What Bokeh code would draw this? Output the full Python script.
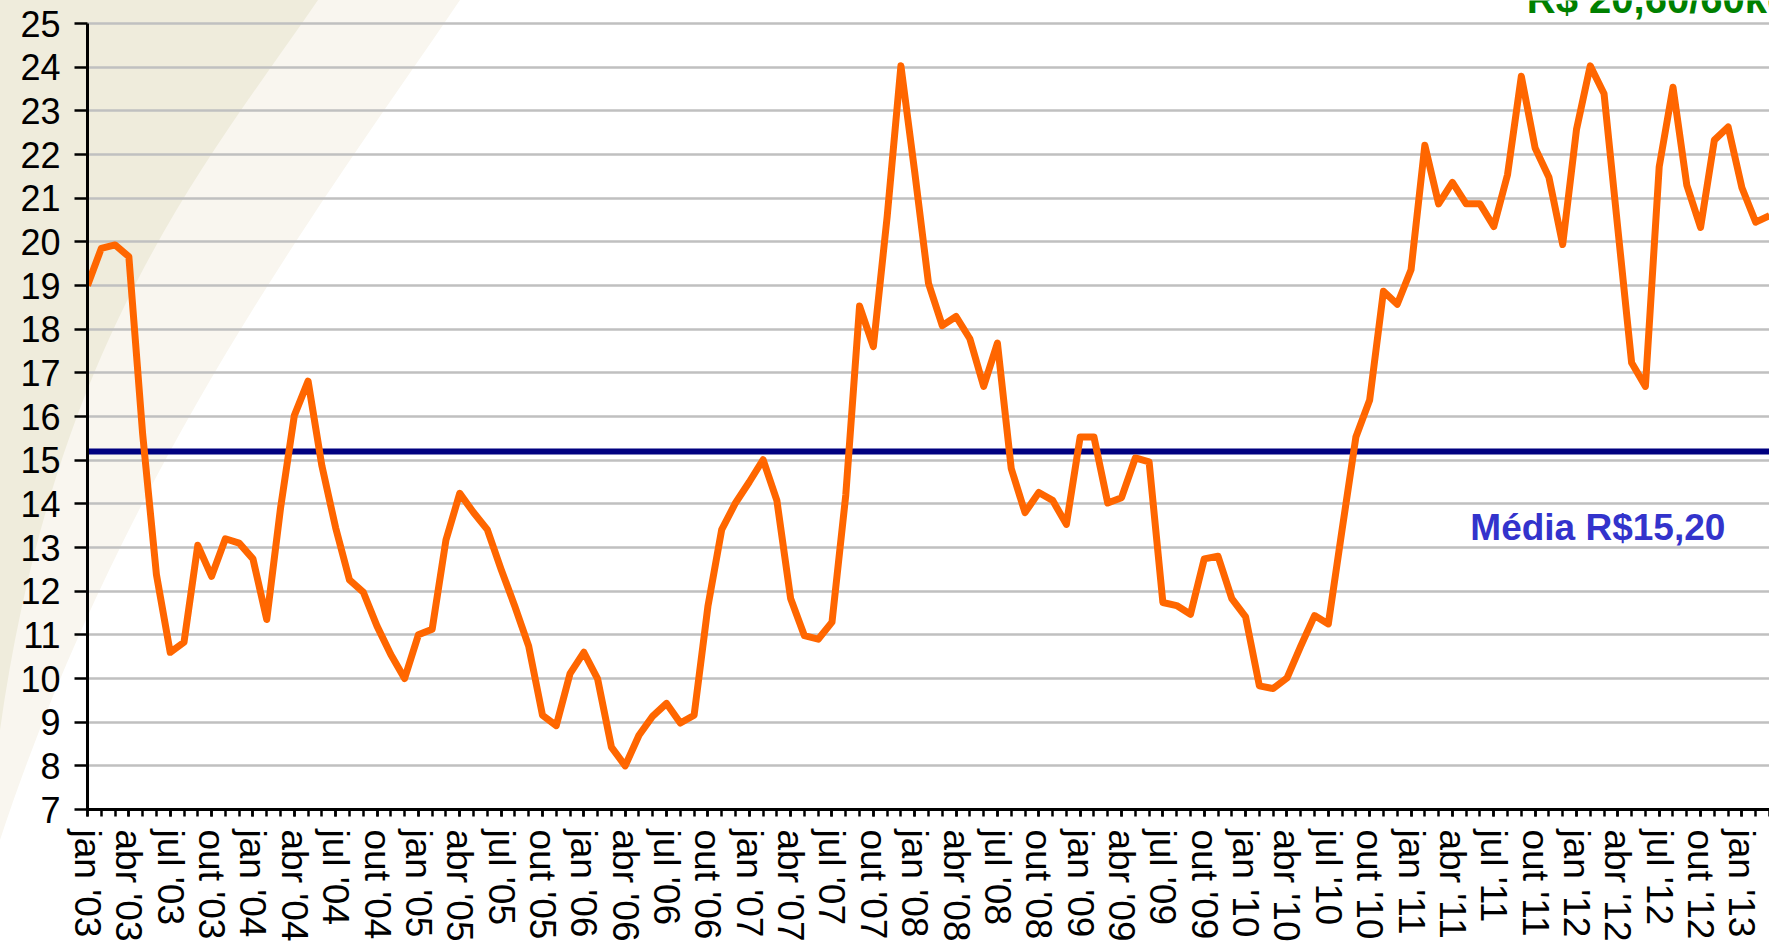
from urllib.parse import quote
from bokeh.plotting import figure
from bokeh.models import Range1d, FixedTicker, Label, Span, InlineStyleSheet
from bokeh.embed import file_html
from bokeh.resources import INLINE

# ---------------- data ----------------
month_names = ["jan", "fev", "mar", "abr", "mai", "jun", "jul", "ago", "set", "out", "nov", "dez"]
start_year = 2003
prices = [
    19.0, 19.85, 19.93, 19.66, 15.6, 12.38, 10.6, 10.83, 13.05, 12.34, 13.2, 13.1,      # 2003
    12.74, 11.35, 13.9, 16.02, 16.81, 14.87, 13.45, 12.26, 11.98, 11.2, 10.55, 10.0,    # 2004
    11.0, 11.13, 13.17, 14.24, 13.8, 13.41, 12.5, 11.65, 10.74, 9.16, 8.92, 10.11,      # 2005
    10.6, 9.99, 8.43, 8.0, 8.7, 9.14, 9.43, 8.98, 9.16, 11.65, 13.41, 14.02,            # 2006
    14.5, 15.01, 14.08, 11.83, 10.98, 10.9, 11.29, 14.2, 18.53, 17.6, 20.57, 24.03,     # 2007
    21.6, 19.05, 18.08, 18.29, 17.78, 16.69, 17.68, 14.81, 13.8, 14.26, 14.08, 13.53,   # 2008
    15.53, 15.53, 14.02, 14.14, 15.05, 14.96, 11.74, 11.67, 11.47, 12.74, 12.8, 11.83,  # 2009
    11.41, 9.83, 9.77, 10.01, 10.74, 11.44, 11.25, 13.41, 15.53, 16.38, 18.87, 18.57,   # 2010
    19.36, 22.21, 20.87, 21.36, 20.87, 20.87, 20.35, 21.54, 23.79, 22.15, 21.48, 19.94, # 2011
    22.57, 24.03, 23.39, 20.3, 17.23, 16.69, 21.72, 23.54, 21.3, 20.33, 22.33, 22.63,   # 2012
    21.24, 20.45, 20.6,                                                                  # 2013
]
media = 15.20
y_min, y_max = 7, 25
y_ticks = list(range(y_min, y_max + 1))
media_text = "Média R$15,20"
last_text = "R$ 20,60/60kg"

idx = list(range(len(prices)))
tick_labels = [f"{month_names[i % 12]} '{(start_year + i // 12) % 100:02d}" for i in idx]
label_idx = idx[::3]

# ---------------- figure ----------------
W, H = 1769, 944
frame_bottom_px = 809          # page pixel of the x axis
px_per_unit = 786 / 18         # vertical scale
y_top = y_min + frame_bottom_px / px_per_unit   # frame reaches the top of the page

p = figure(width=W, height=H, output_backend="svg", toolbar_location=None,
           x_range=Range1d(idx[0], idx[-1]), y_range=Range1d(y_min, y_top),
           min_border_left=87, min_border_right=0, min_border_top=0,
           min_border_bottom=H - frame_bottom_px)
p.background_fill_color = None
p.border_fill_color = None
p.outline_line_color = None

# decorative slide background (curved beige bands at the top-left)
svg_bg = (
    f'<svg xmlns="http://www.w3.org/2000/svg" width="{W}" height="{H}">'
    '<path d="M0 0 L460 0 C335 185 125 460 0 840 Z" fill="#F9F6EF"/>'
    '<path d="M0 0 L318 0 C205 165 55 340 0 730 Z" fill="#EFECDC"/>'
    '</svg>'
)
p.stylesheets = [InlineStyleSheet(css=(
    ":host { background-color: white; background-repeat: no-repeat; "
    f"background-image: url(\"data:image/svg+xml;utf8,{quote(svg_bg)}\"); }}"
))]

font = "Liberation Sans"

# x axis
p.xaxis.ticker = FixedTicker(ticks=label_idx, minor_ticks=idx)
p.xaxis.major_label_overrides = {i: tick_labels[i] for i in label_idx}
p.xaxis.major_label_orientation = "vertical"
p.xaxis.major_label_text_font = font
p.xaxis.major_label_text_font_size = "37px"
p.xaxis.major_label_text_color = "black"
p.xaxis.major_label_standoff = 13
p.xaxis.major_tick_out = 7
p.xaxis.major_tick_in = 0
p.xaxis.minor_tick_out = 7
p.xaxis.minor_tick_in = 0
p.xaxis.major_tick_line_width = 2.5
p.xaxis.minor_tick_line_width = 2.5
p.xaxis.major_tick_line_color = "black"
p.xaxis.minor_tick_line_color = "black"
p.xaxis.axis_line_width = 3
p.xaxis.axis_line_color = "black"
p.xgrid.visible = False

# y axis (line only from 7 to 25)
p.yaxis.ticker = FixedTicker(ticks=y_ticks)
p.yaxis.bounds = (y_min, y_max)
p.yaxis.major_label_text_font = font
p.yaxis.major_label_text_font_size = "36px"
p.yaxis.major_label_text_color = "black"
p.yaxis.major_label_standoff = 14
p.yaxis.major_tick_out = 13
p.yaxis.major_tick_in = 0
p.yaxis.major_tick_line_width = 2.5
p.yaxis.major_tick_line_color = "black"
p.yaxis.minor_tick_line_color = None
p.yaxis.axis_line_width = 3
p.yaxis.axis_line_color = "black"
p.ygrid.grid_line_color = "#C0C0C0"
p.ygrid.grid_line_width = 2.5

# average line
p.add_layout(Span(location=media, dimension="width", line_color="#000080",
                  line_width=6, level="underlay"))

# price series
p.line(idx, prices, line_color="#FF6600", line_width=7, line_join="round")

# texts
p.add_layout(Label(x=100.3, y=13.45, text=media_text, text_color="#3333CC",
                   text_font=font, text_font_size="37px", text_font_style="bold",
                   text_align="left", text_baseline="alphabetic"))
p.add_layout(Label(x=104.4, y=25.55, text=last_text, text_color="#008000",
                   text_font=font, text_font_size="40px", text_font_style="bold",
                   text_align="left", text_baseline="alphabetic"))

open("out.html", "w").write(file_html(p, INLINE))
